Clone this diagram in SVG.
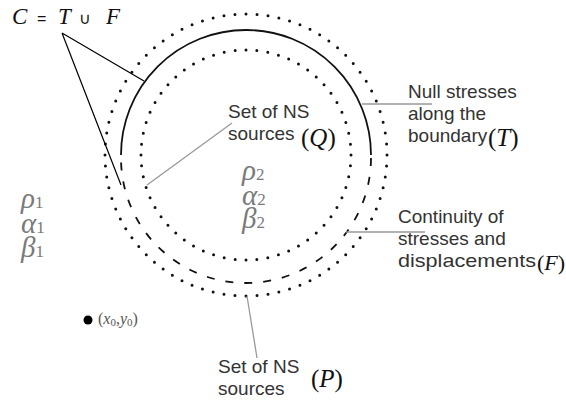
<svg xmlns="http://www.w3.org/2000/svg" width="566" height="404" viewBox="0 0 566 404">
<style>
.dots{fill:none;stroke:#111;stroke-width:3;stroke-linecap:round;stroke-dasharray:0 10}
.bnd{fill:none;stroke:#111;stroke-width:1.8}
.dash{stroke-dasharray:8 11}
.lead{fill:none;stroke:#999;stroke-width:1.3}
.leadk{fill:none;stroke:#000;stroke-width:1.2}
.lbl{font-family:"Liberation Sans",Arial,sans-serif;font-size:19px;fill:#333}
.math{font-family:"Liberation Serif","Times New Roman",serif;font-size:25px;fill:#111}
.it{font-style:italic}
.greek{font-family:"Liberation Serif","DejaVu Serif",serif;font-style:italic;font-size:29px;fill:#7a7a7a}
.sub{font-family:"Liberation Serif",serif;font-style:normal;font-size:17px;fill:#7a7a7a}
</style>
<rect width="566" height="404" fill="#fff"/>
<g id="outer-sources">
<circle class="dots" cx="246" cy="155" r="141" pathLength="800"/>
</g>
<g id="inner-sources">
<circle class="dots" cx="246" cy="155" r="105" pathLength="600"/>
</g>
<g id="boundary">
<path class="bnd" d="M121,155 A125,125 0 0 1 371,155"/>
<path class="bnd dash" d="M371,158 A125,125 0 0 1 121,158"/>
</g>
<g id="connectors">
<path class="leadk" d="M62,33 L144,81 M62,33 L121,185"/>
<path class="lead" d="M147,185 L232,123"/>
<path class="lead" d="M362,104 L432,104"/>
<path class="lead" d="M346,232 L425,232"/>
<path class="lead" d="M247,296 L257,358"/>
</g>
<g id="label-C">
<text class="math" x="12" y="24" style="font-size:23px"><tspan class="it">C</tspan><tspan x="37" style="font-family:'Liberation Sans',sans-serif;font-size:16px">=</tspan><tspan x="58" class="it">T</tspan><tspan x="79" style="font-size:16px">∪</tspan><tspan x="106" class="it">F</tspan></text>
</g>
<g id="label-Q">
<text class="lbl" x="228" y="118">Set of NS</text>
<text class="lbl" x="228" y="140">sources</text>
<text class="math" x="301" y="146">(<tspan class="it">Q</tspan>)</text>
</g>
<g id="label-T">
<text class="lbl" x="408" y="98">Null stresses</text>
<text class="lbl" x="408" y="120">along the</text>
<text class="lbl" x="408" y="142">boundary</text>
<text class="math" x="488" y="146">(<tspan class="it">T</tspan>)</text>
</g>
<g id="label-F">
<text class="lbl" x="398" y="223">Continuity of</text>
<text class="lbl" x="398" y="245">stresses and</text>
<text class="lbl" x="398" y="267" textLength="138" lengthAdjust="spacingAndGlyphs">displacements</text>
<text class="math" x="537" y="270" style="font-size:22px">(<tspan class="it">F</tspan>)</text>
</g>
<g id="label-P">
<text class="lbl" x="218" y="373">Set of NS</text>
<text class="lbl" x="218" y="395">sources</text>
<text class="math" x="311" y="387">(<tspan class="it">P</tspan>)</text>
</g>
<g id="medium-1">
<text class="greek" x="21" y="208">ρ<tspan class="sub">1</tspan></text>
<text class="greek" x="21" y="233">α<tspan class="sub">1</tspan></text>
<text class="greek" x="21" y="257">β<tspan class="sub">1</tspan></text>
</g>
<g id="medium-2">
<text class="greek" x="242" y="180">ρ<tspan class="sub">2</tspan></text>
<text class="greek" x="242" y="205">α<tspan class="sub">2</tspan></text>
<text class="greek" x="242" y="228">β<tspan class="sub">2</tspan></text>
</g>
<g id="point">
<circle cx="88" cy="320" r="4.5" fill="#000"/>
<text x="98" y="324" font-family="Liberation Serif,serif" font-size="16" fill="#555">(<tspan font-style="italic">x</tspan><tspan font-size="11" dy="2">0</tspan><tspan dy="-2">,</tspan><tspan font-style="italic">y</tspan><tspan font-size="11" dy="2">0</tspan><tspan dy="-2">)</tspan></text>
</g>
</svg>
